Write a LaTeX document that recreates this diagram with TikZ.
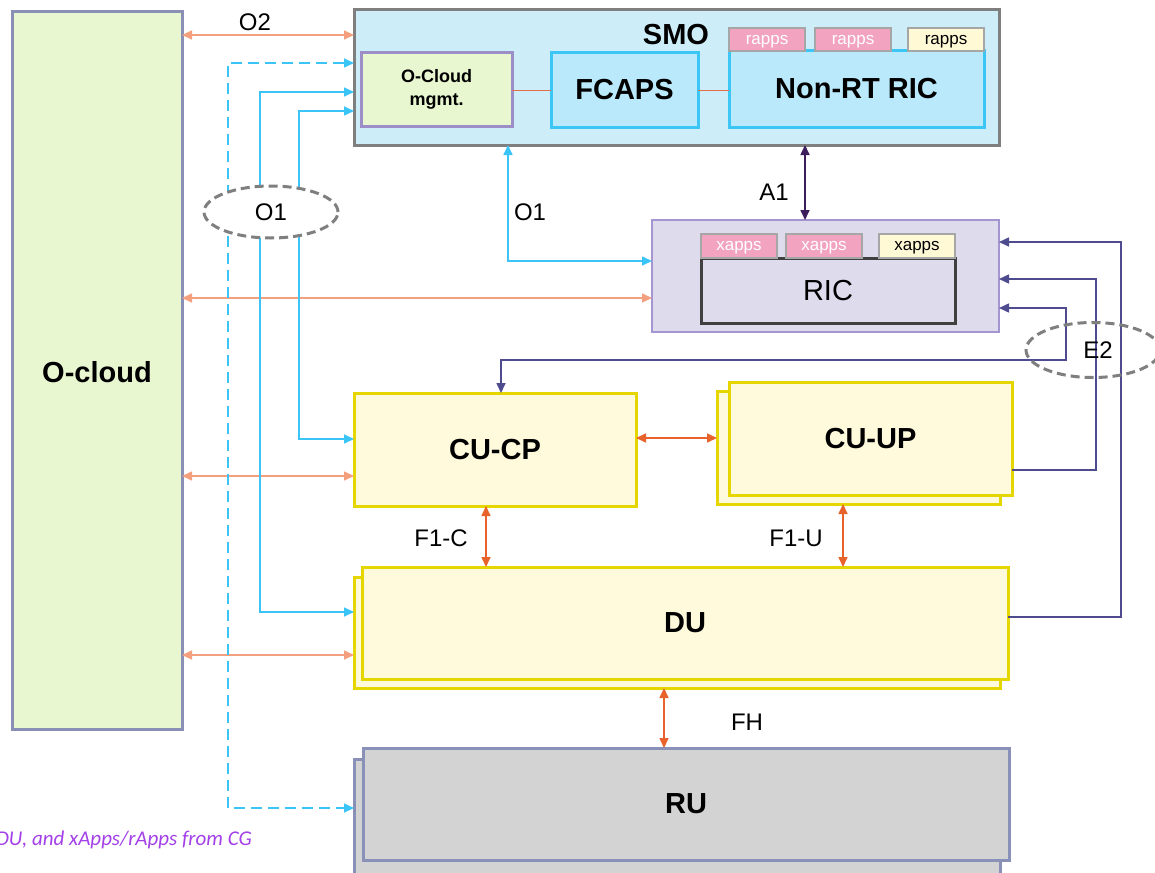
\documentclass[tikz,border=0pt]{standalone}
\usepackage{fontspec}
\setmainfont{Liberation Sans}
\newfontfamily\notefont{Carlito}
\usetikzlibrary{arrows.meta,shapes.geometric,calc}
\definecolor{ocfill}{HTML}{E9F7D1}
\definecolor{ocdraw}{HTML}{8A8FB5}
\definecolor{smofill}{HTML}{CDEEF8}
\definecolor{smodraw}{HTML}{7F7F7F}
\definecolor{cyfill}{HTML}{B9E9FB}
\definecolor{cydraw}{HTML}{3BC6F5}
\definecolor{mgdraw}{HTML}{9C8FC8}
\definecolor{pinkt}{HTML}{F2A3BF}
\definecolor{yelt}{HTML}{FFF9D6}
\definecolor{tabdraw}{HTML}{A6A6A6}
\definecolor{ricfill}{HTML}{DDDBEC}
\definecolor{ricdraw}{HTML}{A495D0}
\definecolor{innerdraw}{HTML}{404040}
\definecolor{cufill}{HTML}{FFFADC}
\definecolor{cudraw}{HTML}{E6D600}
\definecolor{rufill}{HTML}{D3D3D3}
\definecolor{rudraw}{HTML}{8A91B8}
\definecolor{cyline}{HTML}{3BC4F6}
\definecolor{salmon}{HTML}{F4A07E}
\definecolor{fone}{HTML}{E8632B}
\definecolor{etwo}{HTML}{4E4B8E}
\definecolor{aone}{HTML}{3C1E5C}
\definecolor{notecol}{HTML}{A340E8}
\definecolor{mgline}{HTML}{E0704A}
\newcommand\bigbf{\fontsize{29pt}{34pt}\selectfont\bfseries}
\newcommand\lblfont{\fontsize{24pt}{28pt}\selectfont}
\newcommand\tabfont{\fontsize{17pt}{20pt}\selectfont}
\tikzset{
  box/.style={rectangle,inner sep=0pt,outer sep=0pt},
  ocbox/.style={box,fill=ocfill,draw=ocdraw,line width=3pt},
  smobox/.style={box,fill=smofill,draw=smodraw,line width=3pt},
  cybox/.style={box,fill=cyfill,draw=cydraw,line width=3pt},
  mgbox/.style={box,fill=ocfill,draw=mgdraw,line width=3pt},
  ricbox/.style={box,fill=ricfill,draw=ricdraw,line width=2.5pt},
  innerbox/.style={box,fill=ricfill,draw=innerdraw,line width=3pt},
  cubox/.style={box,fill=cufill,draw=cudraw,line width=3pt},
  rubox/.style={box,fill=rufill,draw=rudraw,line width=3pt},
  pinktab/.style={box,fill=pinkt,draw=tabdraw,line width=2.5pt,minimum width=76pt,minimum height=23pt,text=white,font=\tabfont,text depth=0pt},
  yeltab/.style={box,fill=yelt,draw=tabdraw,line width=2.5pt,minimum width=76pt,minimum height=23pt,text=black,font=\tabfont,text depth=0pt},
  lbl/.style={inner sep=0pt,font=\lblfont},
  tip/.style={arrows={-Triangle[length=10pt,width=9pt]}},
  dtip/.style={arrows={Triangle[length=10pt,width=9pt]-Triangle[length=10pt,width=9pt]}},
  cyl/.style={draw=cyline,line width=1.6pt},
  sal/.style={draw=salmon,line width=1.6pt},
  fol/.style={draw=fone,line width=1.6pt},
  e2l/.style={draw=etwo,line width=1.6pt},
  a1l/.style={draw=aone,line width=1.6pt},
  mgl/.style={draw=mgline,line width=1.8pt},
  ovaldash/.style={ellipse,draw=smodraw,line width=3pt,dash pattern=on 9pt off 5pt,inner sep=0pt}
}
\begin{document}
\begin{tikzpicture}[x=1pt,y=-1pt]
\useasboundingbox (0,0) rectangle (1155,872);
\fill[white] (0,0) rectangle (1155,872);

% O-cloud
\node[ocbox,minimum width=170pt,minimum height=717pt] (ocloud) at (97,370.5) {};
\node[inner sep=0pt,font=\bigbf] (ocloudt) at (97,372) {O-cloud};

% SMO
\node[smobox,minimum width=645pt,minimum height=135pt] (smo) at (676.5,77.5) {};
\node[inner sep=0pt,font=\bigbf] (smot) at (676,35) {SMO};
\node[mgbox,minimum width=151pt,minimum height=73pt,align=center,font=\fontsize{18pt}{23pt}\selectfont\bfseries] (ocm) at (436.5,89.5) {O-Cloud\\mgmt.};
\node[cybox,minimum width=147pt,minimum height=74pt,font=\bigbf] (fcaps) at (624.5,90) {FCAPS};
\node[cybox,minimum width=255pt,minimum height=76pt,font=\bigbf] (nrt) at (856.5,89) {Non-RT RIC};
\node[pinktab] (rapp1) at (767,39.5) {rapps};
\node[pinktab] (rapp2) at (853,39.5) {rapps};
\node[yeltab] (rapp3) at (946,39.5) {rapps};
\draw[mgl] (ocm.east |- 0,90.5) -- (fcaps.west |- 0,90.5);
\draw[mgl] (fcaps.east |- 0,90.5) -- (nrt.west |- 0,90.5);

% RIC
\node[ricbox,minimum width=347pt,minimum height=112pt] (ricouter) at (825.5,276) {};
\node[innerbox,minimum width=254pt,minimum height=65pt,font=\fontsize{29pt}{34pt}\selectfont] (ricinner) at (828,290.5) {RIC};
\node[pinktab,minimum height=24pt] (xapp1) at (739,246) {xapps};
\node[pinktab,minimum height=24pt] (xapp2) at (824,246) {xapps};
\node[yeltab,minimum height=24pt] (xapp3) at (917,246) {xapps};

% CU-CP, CU-UP
\node[cubox,minimum width=282pt,minimum height=113pt,font=\bigbf] (cucp) at (495,449.5) {CU-CP};
\node[cubox,minimum width=283pt,minimum height=113pt] (cuupb) at (858.5,447.5) {};
\node[cubox,minimum width=283pt,minimum height=113pt,font=\bigbf] (cuupf) at (870.5,438.5) {CU-UP};

% DU
\node[cubox,minimum width=646pt,minimum height=111pt] (duback) at (677,632.5) {};
\node[cubox,minimum width=646pt,minimum height=112pt,font=\bigbf] (duf) at (685,623) {DU};

% RU
\node[rubox,minimum width=646pt,minimum height=122pt] (ruback) at (677,820) {};
\node[rubox,minimum width=646pt,minimum height=112pt,font=\bigbf] (ruf) at (686,804) {RU};

% O2 and salmon links
\draw[sal,dtip] (ocloud.east |- 0,35) -- (smo.west |- 0,35);
\node[lbl] (o2t) at (255,22) {O2};
\draw[sal,dtip] (ocloud.east |- 0,298) -- (ricouter.west |- 0,298);
\draw[sal,dtip] (ocloud.east |- 0,476) -- (cucp.west |- 0,476);
\draw[sal,dtip] (ocloud.east |- 0,655) -- (duback.west |- 0,655);

% O1 cyan links
\draw[cyl,dashed,dash pattern=on 11pt off 6pt,dtip] (smo.west |- 0,63) -- (228,63) -- (228,808) -- (ruback.west |- 0,808);
\draw[cyl,dtip] (smo.west |- 0,92) -- (260,92) -- (260,612) -- (duback.west |- 0,612);
\draw[cyl,dtip] (smo.west |- 0,111) -- (299,111) -- (299,439) -- (cucp.west |- 0,439);
\node[ovaldash,fill=white,minimum width=134pt,minimum height=52pt,font=\lblfont] (o1oval) at (271,212) {O1};
\draw[cyl,dtip] (smo.south -| 508,0) -- (508,261) -- (ricouter.west |- 0,261);
\node[lbl] (o1t) at (530,212) {O1};

% A1
\draw[a1l,dtip] (smo.south -| 805,0) -- (ricouter.north -| 805,0);
\node[lbl] (a1t) at (774,192) {A1};

% F1 / FH
\draw[fol,dtip] (cucp.east |- 0,438) -- (cuupb.west |- 0,438);
\draw[fol,dtip] (cucp.south -| 486,0) -- (duf.north -| 486,0);
\node[lbl] (f1ct) at (441,538) {F1-C};
\draw[fol,dtip] (cuupb.south -| 843,0) -- (duf.north -| 843,0);
\node[lbl] (f1ut) at (796,538) {F1-U};
\draw[fol,dtip] (duback.south -| 664,0) -- (ruf.north -| 664,0);
\node[lbl] (fht) at (747,722) {FH};

% E2
\draw[e2l,dtip] (cucp.north -| 501,0) -- (501,360) -- (1066,360) -- (1066,308) -- (ricouter.east |- 0,308);
\draw[e2l,tip] (cuupf.east |- 0,470) -- (1096,470) -- (1096,279) -- (ricouter.east |- 0,279);
\draw[e2l,tip] (duf.east |- 0,617) -- (1121,617) -- (1121,242) -- (ricouter.east |- 0,242);
\node[ovaldash,minimum width=134pt,minimum height=55pt] (e2oval) at (1093,350) {};
\node[lbl] (e2t) at (1098,350) {E2};

% note (cut at the left edge, as in the reference)
\node[inner sep=0pt,anchor=east,text=notecol,font=\notefont\itshape\fontsize{21pt}{25pt}\selectfont] (note) at (252,840) {DU, and xApps/rApps from CG};
\end{tikzpicture}
\end{document}
